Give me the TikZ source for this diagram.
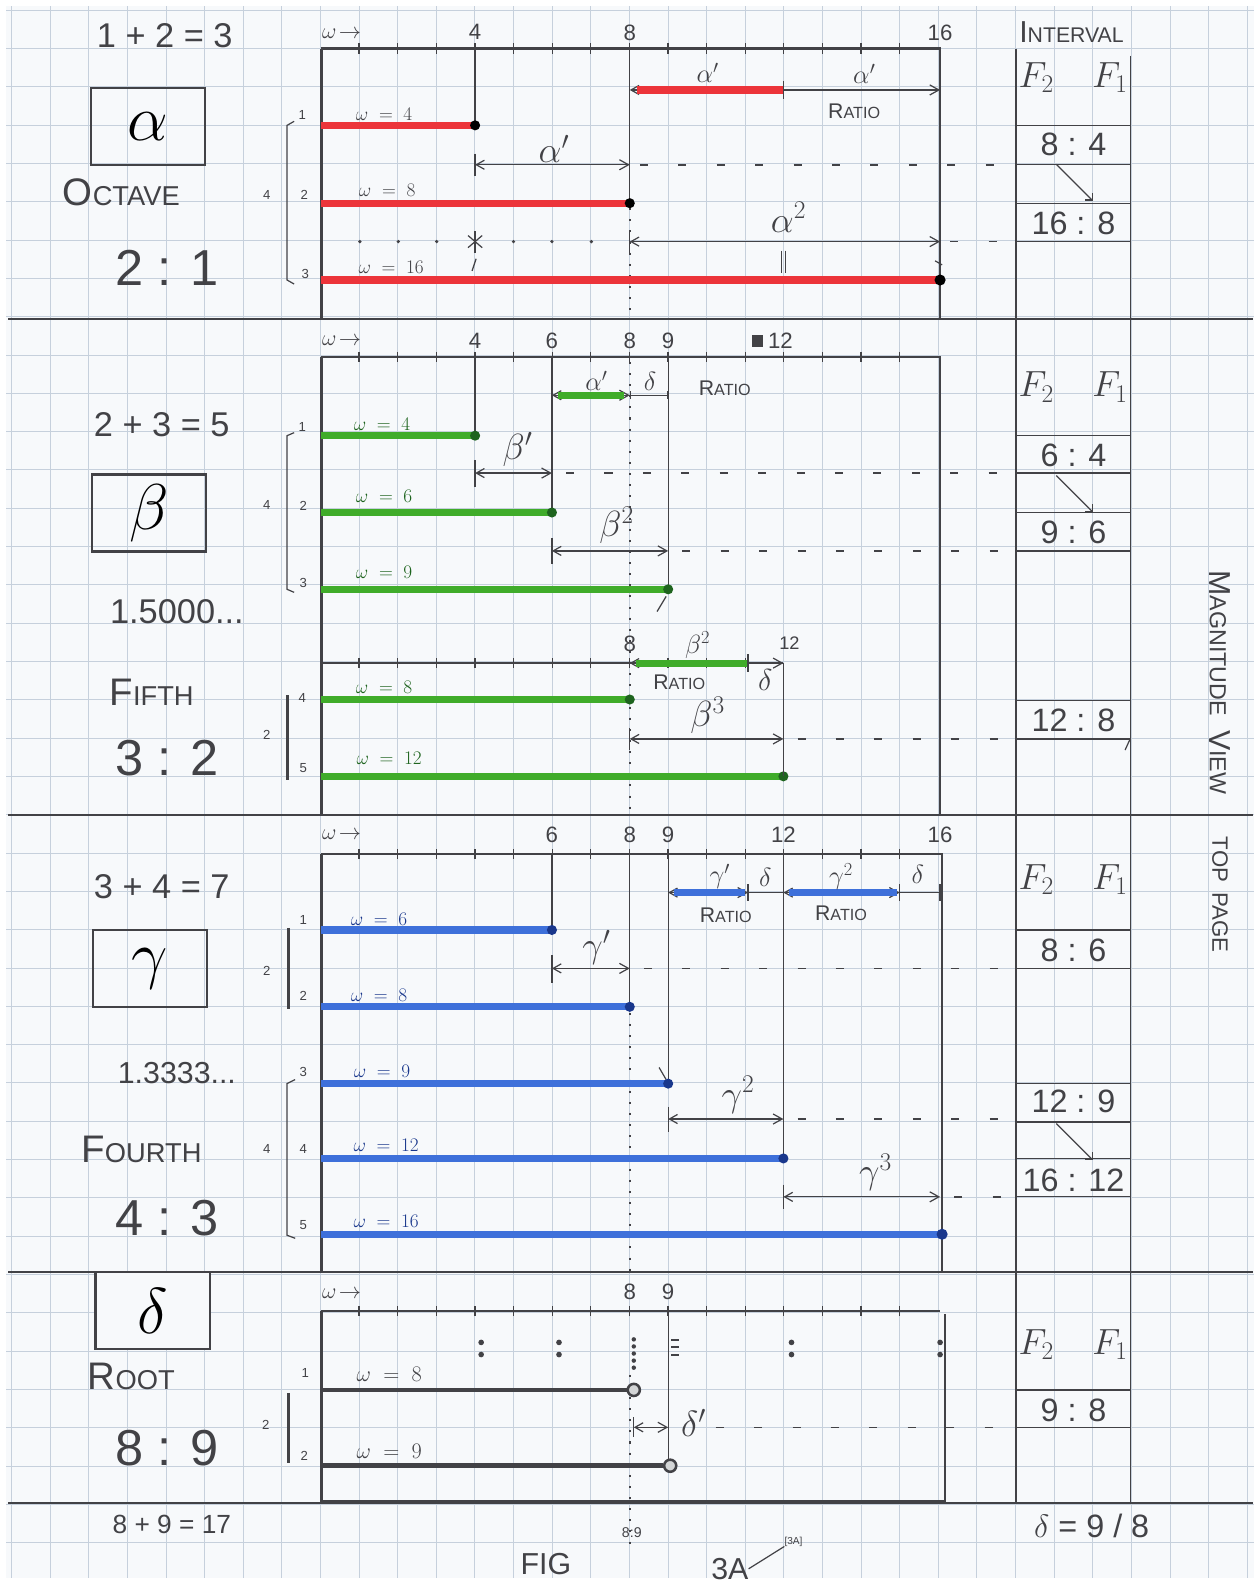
\documentclass[tikz,border=0pt]{standalone}
\usepackage{fix-cm}
\usepackage{fontspec}
\setmainfont{Liberation Sans}
\usetikzlibrary{arrows.meta}
\definecolor{gridc}{RGB}{198,208,220}
\definecolor{paper}{RGB}{247,249,251}
\definecolor{ink}{RGB}{66,66,70}
\definecolor{redb}{RGB}{236,52,58}
\definecolor{greenb}{RGB}{64,172,42}
\definecolor{blueb}{RGB}{62,112,218}
\definecolor{greend}{RGB}{30,100,30}
\definecolor{blued}{RGB}{25,55,140}
\newcommand\fs[1]{\fontsize{#1}{#1}\selectfont}
\newcommand\sctxt[4]{{\fs{#1}#2\fs{#3}#4}}
\begin{document}
\begin{tikzpicture}[x=1pt,y=-1pt,
  gridl/.style={gridc, line width=0.9pt},
  divl/.style={ink, line width=2pt},
  framel/.style={ink, line width=2.6pt},
  thinl/.style={ink, line width=1.2pt},
  dimarr/.style={thinl, {Straight Barb[length=8pt,width=9pt]}-{Straight Barb[length=9pt,width=10pt]}},
  dashrow/.style={ink, line width=1.6pt, dash pattern=on 8pt off 30pt},
  dotv/.style={ink, line width=1.8pt, dash pattern=on 2pt off 9pt},
  redbar/.style={redb, line width=7pt},
  greenbar/.style={greenb, line width=7pt},
  bluebar/.style={blueb, line width=7pt},
  blackbar/.style={ink, line width=4.5pt},
  txt/.style={text=ink, inner sep=0pt, anchor=center},
  big/.style={txt, font=\fs{34}},
  huge/.style={txt, font=\fs{50}},
  glab/.style={txt, font=\fs{36}},
  sglab/.style={txt, font=\fs{26}},
  axn/.style={txt, font=\fs{22}},
  wlab/.style={txt, font=\fs{19}},
  rown/.style={txt, font=\fs{13}},
  ratio/.style={txt, font=\fs{32}},
  boxl/.style={draw=ink, line width=2.2pt, minimum width=113pt, minimum height=76pt, inner sep=0pt, font=\fs{64}}
]
\useasboundingbox (0,0) rectangle (1245,1568);
\fill[white] (0,0) rectangle (1245,1568);
\fill[paper] (6,6) rectangle (1241,1561);
\begin{scope}
\clip (6,6) rectangle (1241,1561);
\foreach \i in {0,...,32} \draw[gridl] ({11.4+38.2*\i},6) -- ({11.4+38.2*\i},1561);
\foreach \j in {0,...,41} \draw[gridl] (6,{10.1+37.9*\j}) -- (1241,{10.1+37.9*\j});
\end{scope}

% dividers
\foreach \yy in {316,806,1258,1487} \draw[divl] (8,\yy) -- (1240,\yy);

% right column
\draw[thinl] (1005,48) -- (1005,1487);
\draw[thinl] (1118,55) -- (1118,1487);
\node[txt, font=\fs{30}] (interval) at (1060,32) {\sctxt{30}{I}{21}{NTERVAL}};

% ===================== PANEL 1 : alpha =====================
\node[big] (p1sum) at (163,35) {1 + 2 = 3};
\node[boxl] (p1box) at (146.5,125) {$\alpha$};
\node[txt] (p1name) at (120,190) {\sctxt{38}{O}{27}{CTAVE}};
\node[huge] (p1ratio) at (165,265) {2 : 1};
\node[axn] (p1w) at (338,33) {$\omega\!\rightarrow$};
\node[axn] (p1a4) at (470,32) {4};
\node[axn] (p1a8) at (623,32) {8};
\node[axn] (p1a16) at (930,32) {16};
\draw[framel] (318,48) -- (930,48) -- (930,316);
\draw[framel] (318,48) -- (318,316);
\foreach \k in {1,...,15} \draw[thinl] ({317+38.2*\k},43) -- ++(0,10);
% verticals
\draw[thinl] (470,48) -- (470,124);
\draw[thinl] (470,152) -- (470,174);
\draw[thinl] (623,48) -- (623,201);
\draw[dotv] (623,206) -- (623,316);
% top ratio
\draw[dimarr] (623,89) -- (930,89);
\draw[redbar] (630,89) -- (775,89);
\draw[thinl] (775,80) -- (775,98);
\draw[thinl] (930,80) -- (930,98);
\node[sglab] (p1t1) at (700,72) {$\alpha'$};
\node[sglab] (p1t2) at (855,73) {$\alpha'$};
\node[txt] (p1r) at (845,110) {\sctxt{21}{R}{16}{ATIO}};
% rows
\draw[redbar] (318,124) -- (470,124);
\draw[redbar] (318,201) -- (623,201);
\draw[redbar] (318,277) -- (930,277);
\fill[black] (470,124) circle (5);
\fill[black] (623,201) circle (5);
\fill[black] (930,277) circle (5.5);
\node[wlab] (p1l1) at (380,113) {$\omega\;=\;4$};
\node[wlab] (p1l2) at (383,188) {$\omega\;=\;8$};
\node[wlab] (p1l3) at (387,264) {$\omega\;=\;16$};
\node[rown] (p1n1) at (299,114) {1};
\node[rown] (p1n2) at (301,193) {2};
\node[rown] (p1n3) at (302,271) {3};
\draw[thinl] (291,120) -- (284,124) -- (284,277) -- (291,281);
\node[rown] (p1c) at (264,193) {4};
% alpha' arrow
\draw[dimarr] (470,163) -- (623,163);
\node[glab] (p1g1) at (548,147) {$\alpha'$};
\draw[dashrow] (633,163) -- (1005,163);
% dotted row and alpha^2
\foreach \xx in {356,394,432,508,546,585} \fill[ink] (\xx,239) circle (1.8);
\draw[thinl] (470,229) -- (470,250);
\draw[thinl] (463,233) -- (477,245);
\draw[thinl] (463,245) -- (477,233);
\draw[thinl] (623,228) -- (623,250);
\draw[dimarr] (623,239) -- (930,239);
\node[glab] (p1g2) at (780,215) {$\alpha^2$};
\draw[dashrow] (940,239) -- (1005,239);
\draw[thinl] (467,268) -- (471,256);
\draw[thinl] (773,248) -- (773,270);
\draw[thinl] (777,248) -- (777,270);
\draw[thinl] (925,258) -- (932,262);
% interval column
\node[glab] (p1f2) at (1025,77) {$F_2$};
\node[glab] (p1f1) at (1098,77) {$F_1$};
\foreach \yy in {124,163,201,239} \draw[thinl] (1005,\yy) -- (1118,\yy);
\node[ratio] (p1q1) at (1062,143) {8 : 4};
\node[ratio] (p1q2) at (1062,221) {16 : 8};
\draw[thinl, -{Straight Barb[length=5pt]}] (p1q1.south) ++(-17,8) -- ++(36,36);

% ===================== PANEL 2 : beta =====================
\node[big] (p2sum) at (160,420) {2 + 3 = 5};
\node[boxl] (p2box) at (147.5,507.5) {$\beta$};
\node[big] (p2dec) at (175,605) {1.5000...};
\node[txt] (p2name) at (150,685) {\sctxt{38}{F}{27}{IFTH}};
\node[huge] (p2ratio) at (165,750) {3 : 2};
\node[axn] (p2w) at (338,337) {$\omega\!\rightarrow$};
\node[axn] (p2a4) at (470,337) {4};
\node[axn] (p2a6) at (546,337) {6};
\node[axn] (p2a8) at (623,337) {8};
\node[axn] (p2a9) at (661,337) {9};
\fill[ink] (744,331) rectangle (755,343);
\node[axn] (p2a12) at (772,337) {12};
\draw[framel] (318,353) -- (930,353) -- (930,806);
\draw[framel] (318,353) -- (318,806);
\foreach \k in {1,...,15} \draw[thinl] ({317+38.2*\k},348) -- ++(0,10);
\draw[thinl] (470,353) -- (470,431);
\draw[thinl] (470,455) -- (470,482);
\draw[thinl] (546,353) -- (546,507);
\draw[thinl] (546,532) -- (546,558);
\draw[thinl] (661,353) -- (661,583);
\draw[thinl] (650,605) -- (659,590);
\draw[dotv] (623,358) -- (623,806);
% top ratio
\draw[dimarr] (546,391) -- (623,391);
\draw[greenbar] (552,391) -- (617,391);
\draw[thinl, |-|] (623,391) -- (661,391);
\node[sglab] (p2t1) at (590,377) {$\alpha'$};
\node[sglab] (p2t2) at (643,377) {$\delta$};
\node[txt] (p2r) at (717,384) {\sctxt{21}{R}{16}{ATIO}};
% rows
\draw[greenbar] (318,431) -- (470,431);
\draw[greenbar] (318,507) -- (546,507);
\draw[greenbar] (318,583) -- (661,583);
\draw[greenbar] (318,692) -- (623,692);
\draw[greenbar] (318,768) -- (775,768);
\fill[greend] (470,431) circle (5);
\fill[greend] (546,507) circle (5);
\fill[greend] (661,583) circle (5);
\fill[greend] (623,692) circle (5);
\fill[greend] (775,768) circle (5);
\node[wlab, text=greend] (p2l1) at (378,420) {$\omega\;=\;4$};
\node[wlab, text=greend] (p2l2) at (380,491) {$\omega\;=\;6$};
\node[wlab, text=greend] (p2l3) at (380,566) {$\omega\;=\;9$};
\node[wlab, text=greend] (p2l4) at (380,680) {$\omega\;=\;8$};
\node[wlab, text=greend] (p2l5) at (385,750) {$\omega\;=\;12$};
\node[rown] (p2n1) at (299,422) {1};
\node[rown] (p2n2) at (300,500) {2};
\node[rown] (p2n3) at (300,577) {3};
\node[rown] (p2n4) at (299,690) {4};
\node[rown] (p2n5) at (300,760) {5};
\draw[thinl] (291,428) -- (284,431) -- (284,583) -- (291,586);
\node[rown] (p2c1) at (264,500) {4};
\draw[ink, line width=3pt] (284,688) -- (284,772);
\node[rown] (p2c2) at (264,727) {2};
% arrows
\draw[dimarr] (470,468) -- (546,468);
\node[glab] (p2g1) at (512,445) {$\beta'$};
\draw[dashrow] (560,468) -- (1005,468);
\draw[dimarr] (546,545) -- (661,545);
\node[glab] (p2g2) at (610,520) {$\beta^2$};
\draw[dashrow] (675,545) -- (1005,545);
% sub axis
\draw[framel] (318,656) -- (775,656);
\foreach \k in {1,...,11} \draw[thinl] ({317+38.2*\k},651) -- ++(0,10);
\node[axn] (p2b8) at (623,637) {8};
\node[axn, font=\fs{18}] (p2b12) at (781,636) {12};
\draw[dimarr] (623,656) -- (775,656);
\draw[greenbar] (629,656) -- (740,656);
\draw[thinl] (740,647) -- (740,665);
\node[sglab] (p2t3) at (690,638) {$\beta^2$};
\node[txt] (p2r2) at (672,675) {\sctxt{21}{R}{16}{ATIO}};
\node[glab, font=\fs{30}] (p2t4) at (757,673) {$\delta$};
\draw[thinl] (775,656) -- (775,768);
\draw[thinl] (623,720) -- (623,742);
\draw[dimarr] (623,731) -- (775,731);
\node[glab] (p2g3) at (700,708) {$\beta^3$};
\draw[dashrow] (789,731) -- (1005,731);
% interval column
\node[glab] (p2f2) at (1025,383) {$F_2$};
\node[glab] (p2f1) at (1098,383) {$F_1$};
\foreach \yy in {431,468,507,545,693,731} \draw[thinl] (1005,\yy) -- (1118,\yy);
\node[ratio] (p2q1) at (1062,450) {6 : 4};
\node[ratio] (p2q2) at (1062,527) {9 : 6};
\node[ratio] (p2q3) at (1062,713) {12 : 8};
\draw[thinl, -{Straight Barb[length=5pt]}] (p2q1.south) ++(-17,9) -- ++(36,36);
\draw[thinl] (1118,731) -- (1113,742);
% side vertical text
\node[txt, rotate=-90] (side1) at (1207,675) {\sctxt{30}{M}{23}{AGNITUDE}\hspace{14pt}\sctxt{30}{V}{23}{IEW}};
\node[txt, rotate=-90] (side2) at (1207,885) {\sctxt{22}{}{22}{TOP\hspace{10pt}PAGE}};

% ===================== PANEL 3 : gamma =====================
\node[big] (p3sum) at (160,877) {3 + 4 = 7};
\node[boxl] (p3box) at (148.5,958) {$\gamma$};
\node[txt, font=\fs{30}] (p3dec) at (175,1062) {1.3333...};
\node[txt] (p3name) at (140,1137) {\sctxt{38}{F}{27}{OURTH}};
\node[huge] (p3ratio) at (165,1205) {4 : 3};
\node[axn] (p3w) at (338,826) {$\omega\!\rightarrow$};
\node[axn] (p3a6) at (546,826) {6};
\node[axn] (p3a8) at (623,826) {8};
\node[axn] (p3a9) at (661,826) {9};
\node[axn] (p3a12) at (775,826) {12};
\node[axn] (p3a16) at (930,826) {16};
\draw[framel] (318,845) -- (932,845) -- (932,1258);
\draw[framel] (318,845) -- (318,1258);
\foreach \k in {1,...,15} \draw[thinl] ({317+38.2*\k},840) -- ++(0,10);
\draw[thinl] (546,845) -- (546,920);
\draw[thinl] (546,945) -- (546,972);
\draw[thinl] (623,845) -- (623,996);
\draw[dotv] (623,1002) -- (623,1258);
\draw[thinl] (661,845) -- (661,1072);
\draw[thinl] (661,1095) -- (661,1120);
\draw[thinl] (775,845) -- (775,1146);
\draw[thinl] (775,1172) -- (775,1196);
\draw[thinl] (652,1056) -- (659,1068);
% top ratio
\draw[thinl] (661,883) -- (930,883);
\draw[dimarr] (661,883) -- (740,883);
\draw[bluebar] (667,883) -- (737,883);
\draw[dimarr] (775,883) -- (890,883);
\draw[bluebar] (781,883) -- (887,883);
\foreach \xx in {740,775,890,930} \draw[thinl] (\xx,875) -- (\xx,891);
\node[sglab] (p3t1) at (712,867) {$\gamma'$};
\node[sglab] (p3t2) at (757,868) {$\delta$};
\node[sglab] (p3t3) at (832,867) {$\gamma^2$};
\node[sglab] (p3t4) at (908,865) {$\delta$};
\node[txt] (p3r1) at (718,905) {\sctxt{21}{R}{16}{ATIO}};
\node[txt] (p3r2) at (832,903) {\sctxt{21}{R}{16}{ATIO}};
% rows
\draw[bluebar] (318,920) -- (546,920);
\draw[bluebar] (318,996) -- (623,996);
\draw[bluebar] (318,1072) -- (661,1072);
\draw[bluebar] (318,1146) -- (775,1146);
\draw[bluebar] (318,1221) -- (932,1221);
\fill[blued] (546,920) circle (5);
\fill[blued] (623,996) circle (5);
\fill[blued] (661,1072) circle (5);
\fill[blued] (775,1146) circle (5);
\fill[blued] (932,1221) circle (5.5);
\node[wlab, text=blued] (p3l1) at (375,909) {$\omega\;=\;6$};
\node[wlab, text=blued] (p3l2) at (375,985) {$\omega\;=\;8$};
\node[wlab, text=blued] (p3l3) at (378,1060) {$\omega\;=\;9$};
\node[wlab, text=blued] (p3l4) at (382,1133) {$\omega\;=\;12$};
\node[wlab, text=blued] (p3l5) at (382,1208) {$\omega\;=\;16$};
\node[rown] (p3n1) at (300,910) {1};
\node[rown] (p3n2) at (300,985) {2};
\node[rown] (p3n3) at (300,1060) {3};
\node[rown] (p3n4) at (300,1137) {4};
\node[rown] (p3n5) at (300,1212) {5};
\draw[ink, line width=3pt] (285,918) -- (285,998);
\node[rown] (p3c1) at (264,960) {2};
\draw[thinl] (292,1068) -- (284,1072) -- (284,1222) -- (292,1225);
\node[rown] (p3c2) at (264,1137) {4};
% arrows
\draw[dimarr] (546,958) -- (623,958);
\node[glab] (p3g1) at (590,937) {$\gamma'$};
\draw[dashrow] (637,958) -- (1005,958);
\draw[dimarr] (661,1107) -- (775,1107);
\node[glab] (p3g2) at (730,1083) {$\gamma^2$};
\draw[dashrow] (789,1107) -- (1005,1107);
\draw[dimarr] (775,1184) -- (930,1184);
\node[glab] (p3g3) at (866,1160) {$\gamma^3$};
\draw[dashrow] (944,1184) -- (1005,1184);
% interval column
\node[glab] (p3f2) at (1025,870) {$F_2$};
\node[glab] (p3f1) at (1098,870) {$F_1$};
\foreach \yy in {920,958,1072,1110,1146,1184} \draw[thinl] (1005,\yy) -- (1118,\yy);
\node[ratio] (p3q1) at (1062,940) {8 : 6};
\node[ratio] (p3q2) at (1062,1090) {12 : 9};
\node[ratio] (p3q3) at (1062,1168) {16 : 12};
\draw[thinl, -{Straight Barb[length=5pt]}] (p3q2.south) ++(-17,10) -- ++(36,36);

% ===================== PANEL 4 : delta =====================
\node[boxl, fill=paper] (p4box) at (151,1296.5) {$\delta$};
\node[txt] (p4name) at (130,1362) {\sctxt{38}{R}{27}{OOT}};
\node[huge] (p4ratio) at (165,1433) {8 : 9};
\node[txt, font=\fs{26}] (p4sum) at (170,1508) {8 + 9 = 17};
\node[axn] (p4w) at (338,1280) {$\omega\!\rightarrow$};
\node[axn] (p4a8) at (623,1278) {8};
\node[axn] (p4a9) at (661,1278) {9};
\draw[framel] (318,1297) -- (930,1297);
\draw[framel] (318,1297) -- (318,1487);
\draw[framel] (935,1300) -- (935,1487);
\draw[framel] (318,1485) -- (935,1485);
\foreach \k in {1,...,15} \draw[thinl] ({317+38.2*\k},1292) -- ++(0,10);
\foreach \xx in {476,553,783,930} {\fill[ink] (\xx,1328) circle (2.8); \fill[ink] (\xx,1340) circle (2.8);}
\foreach \yy in {1325,1332,1339,1346,1353} \fill[ink] (627,\yy) circle (2.2);
\foreach \yy in {1326,1333,1340} \draw[ink, line width=2pt] (664,\yy) -- (672,\yy);
\draw[dotv] (623,1360) -- (623,1530);
\draw[thinl] (661,1297) -- (661,1450);
\draw[blackbar] (318,1375) -- (621,1375);
\draw[blackbar] (318,1450) -- (656,1450);
\draw[ink, line width=2.5pt, fill=paper!70!gray] (627,1375) circle (6);
\draw[ink, line width=2.5pt, fill=paper!70!gray] (663,1450) circle (6);
\node[txt, font=\fs{22}] (p4l1) at (385,1360) {$\omega\;=\;8$};
\node[txt, font=\fs{22}] (p4l2) at (385,1436) {$\omega\;=\;9$};
\node[rown] (p4n1) at (302,1358) {1};
\node[rown] (p4n2) at (301,1440) {2};
\draw[ink, line width=3pt] (285,1378) -- (285,1447);
\node[rown] (p4c) at (263,1410) {2};
\draw[thinl] (627,1402) -- (627,1422);
\draw[dimarr] (627,1412) -- (661,1412);
\node[glab] (p4g) at (686,1408) {$\delta'$};
\draw[dashrow] (708,1412) -- (1005,1412);
\node[glab] (p4f2) at (1025,1330) {$F_2$};
\node[glab] (p4f1) at (1098,1330) {$F_1$};
\foreach \yy in {1375,1412} \draw[thinl] (1005,\yy) -- (1118,\yy);
\node[ratio] (p4q) at (1062,1395) {9 : 8};
% footer
\node[txt, font=\fs{32}] (p4def) at (1080,1510) {$\delta$ = 9 / 8};
\node[txt, font=\fs{14}] (p4small) at (625,1516) {8:9};
\node[txt, font=\fs{30}] (fig) at (540,1547) {FIG};
\node[txt, font=\fs{30}] (fignum) at (722,1552) {3A};
\node[txt, font=\fs{10}] (figref) at (785,1525) {[3A]};
\draw[thinl] (fignum.east) -- (figref.south west);
\end{tikzpicture}
\end{document}
